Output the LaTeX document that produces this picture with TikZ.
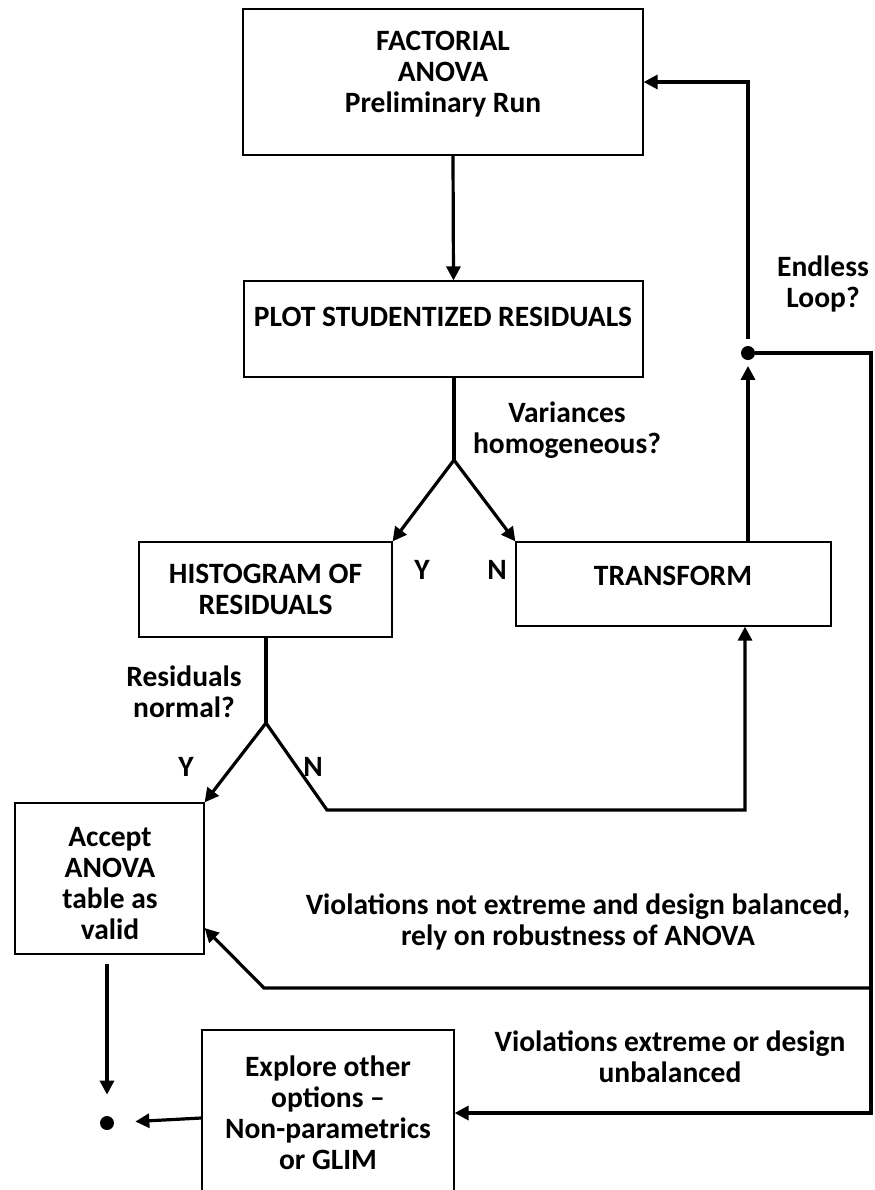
\documentclass[tikz,border=0pt]{standalone}
\usepackage{fontspec}
\setmainfont{Carlito}
\usetikzlibrary{arrows.meta}
\begin{document}
\begin{tikzpicture}[x=0.5pt,y=-0.5pt,
    box/.style={draw,line width=0.6pt,inner sep=0pt,align=center,font=\fontsize{14.75}{15.5}\selectfont\bfseries},
    txt/.style={align=center,inner sep=0pt,font=\fontsize{14.75}{15.5}\selectfont\bfseries},
    conn/.style={line width=1.6pt},
    arrow/.style={conn,-{Triangle[length=7pt,width=7pt]}},
    dot/.style={circle,fill,inner sep=0pt,minimum size=7pt}]
  \useasboundingbox (0,0) rectangle (874,1190);
  \clip (0,0) rectangle (874,1190);
  \node[box,minimum width=200pt,minimum height=73pt] (anova) at (443,82) {};
  \node[txt] (anovatext) at (443,74.5) {FACTORIAL\\ANOVA\\Preliminary Run};
  \node[box,minimum width=199.5pt,minimum height=48pt] (plot) at (443.5,329) {};
  \node[txt] (plottext) at (443,317) {PLOT STUDENTIZED RESIDUALS};
  \node[box,minimum width=126.5pt,minimum height=47.5pt] (hist) at (265.5,589.5) {HISTOGRAM OF\\RESIDUALS};
  \node[box,minimum width=157.5pt,minimum height=42pt] (trans) at (673.5,584) {};
  \node[txt] (transtext) at (673,576) {TRANSFORM};
  \node[box,minimum width=94.5pt,minimum height=75.5pt] (accept) at (109.5,878.5) {};
  \node[txt] (accepttext) at (110,884) {Accept\\ANOVA\\table as\\valid};
  \node[box,minimum width=126pt,minimum height=83pt] (explore) at (328,1113) {Explore other\\options --\\Non-parametrics\\or GLIM};

  \node[txt] (yes1) at (422,570) {Y};
  \node[txt] (no1) at (497,570) {N};
  \node[txt] (varq) at (567,430) {Variances\\homogeneous?};
  \node[txt] (yes2) at (186,767) {Y};
  \node[txt] (no2) at (313,767) {N};
  \node[txt] (normq) at (184,691.5) {Residuals\\normal?};
  \node[txt] (loopq) at (823,283.5) {Endless\\Loop?};
  \node[txt] (robustq) at (578,922) {Violations not extreme and design balanced,\\rely on robustness of ANOVA};
  \node[txt] (extremeq) at (670,1056.5) {Violations extreme or design\\unbalanced};

  \coordinate (vq) at (454,460);
  \coordinate (rq) at (266,723);
  \coordinate (nturn) at (327,810);
  \coordinate (nup) at (745,810);
  \node[dot] (loop) at (748,353) {};
  \coordinate (rail) at (871,1113);
  \coordinate (robust) at (871,988);
  \coordinate (rbend) at (264,988);
  \node[dot] (done) at (107,1123) {};

  \draw[arrow] ([xshift=5pt]anova.south) -- ([xshift=5pt]plot.north);
  \draw[conn] (plot.south -| vq) -- (vq);
  \draw[arrow] (vq) -- (hist.north east);
  \draw[arrow] (vq) -- (trans.north west);
  \draw[conn] (hist.south -| rq) -- (rq);
  \draw[arrow] (rq) -- (accept.north east);
  \draw[arrow] (rq) -- (nturn) -- (nup) -- (nup |- trans.south);
  \draw[arrow,shorten >=2.75pt] (trans.north -| loop) -- (loop);
  \draw[arrow,shorten <=3.25pt] (loop) |- (anova.east);
  \draw[arrow] (loop) -| (rail) -- (explore.east);
  \draw[arrow] (robust) -- (rbend) -- ([yshift=-24.75pt]accept.east);
  \draw[arrow,shorten <=4.5pt,shorten >=10.5pt] (accept.south -| done) -- (done);
  \draw[arrow,shorten >=10.5pt] ([yshift=-2.5pt]explore.west) -- (done);
\end{tikzpicture}
\end{document}
